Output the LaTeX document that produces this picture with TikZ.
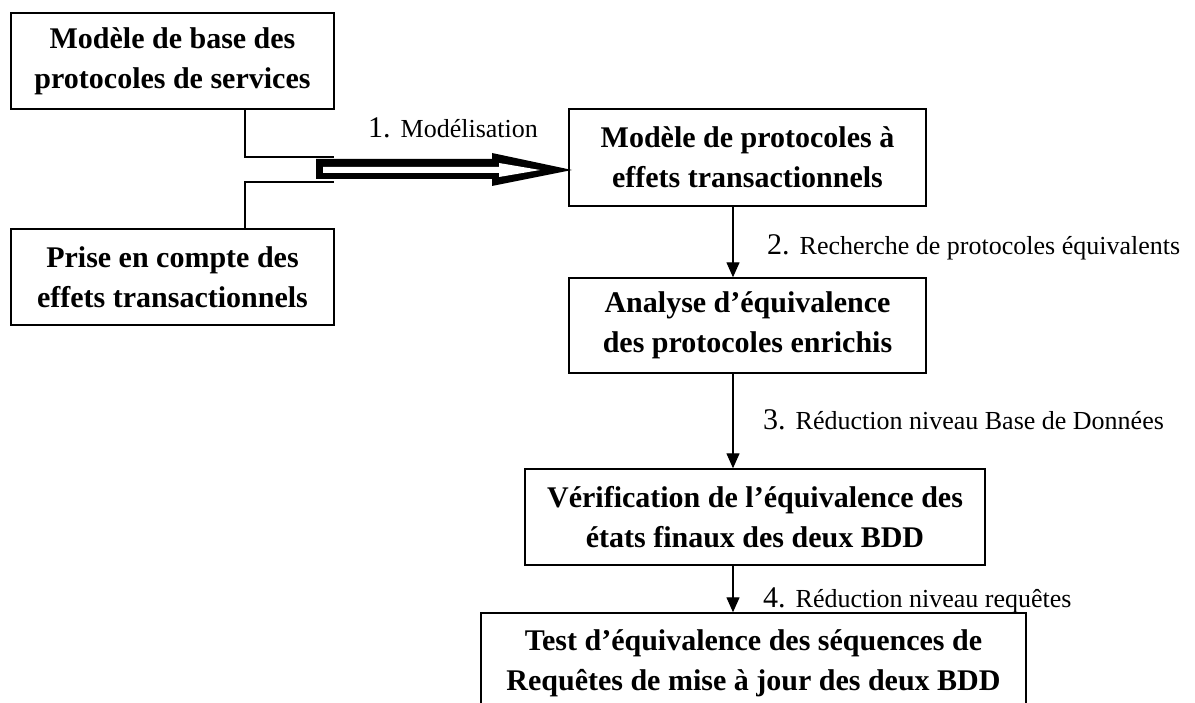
\documentclass[tikz,border=0pt]{standalone}
\usepackage{fontspec}
\setmainfont{Liberation Serif}
\usetikzlibrary{arrows.meta}
\newcommand\stepno[1]{{\fontsize{30}{30}\selectfont #1}}
\begin{document}
\begin{tikzpicture}[x=1pt,y=-1pt,
  stage/.style={draw, line width=1.4pt, align=center, inner sep=0pt,
    font=\bfseries\fontsize{30}{40}\selectfont},
  link/.style={line width=1.3pt},
  flow/.style={line width=1.3pt, -{Triangle[length=15pt,width=13pt]}},
  steplabel/.style={anchor=base west, inner sep=0pt,
    font=\fontsize{26}{26}\selectfont}]
\useasboundingbox (0,0) rectangle (1195,703);
\clip (0,0) rectangle (1195,703);
\fill[white] (0,0) rectangle (1195,703);

% stages
\node[stage, minimum width=323pt, minimum height=96pt] (base) at (172.5,61)
  {Modèle de base des\\protocoles de services};
\node[stage, minimum width=323pt, minimum height=96pt] (trans) at (172.5,277)
  {Prise en compte des\\effets transactionnels};
\node[stage, minimum width=357pt, minimum height=97pt] (model) at (747.5,157.5)
  {Modèle de protocoles à\\effets transactionnels};
\node[stage, minimum width=357pt, minimum height=95pt] (analyse) at (747.5,325.5)
  {Analyse d’équivalence\\des protocoles enrichis};
\node[stage, minimum width=460pt, minimum height=96pt] (verif) at (755,517)
  {Vérification de l’équivalence des\\états finaux des deux BDD};
\node[stage, minimum width=545pt, minimum height=100pt] (test) at (753.5,663)
  {Test d’équivalence des séquences de\\Requêtes de mise à jour des deux BDD};

% the two inputs joining into the modelling arrow
\coordinate (cx) at (245,0);
\coordinate (jtop) at (334,157);
\coordinate (jbot) at (334,182);
\draw[link] (cx |- base.south) |- (jtop);
\draw[link] (cx |- trans.north) |- (jbot);

% hollow block arrow into the transactional model
\fill[black] (316,159) -- (492,159) -- (492,153) -- (572,170) -- (492,186)
  -- (492,179) -- (316,179) -- cycle;
\fill[white] (323,167) -- (499,167) -- (499,163) -- (540,170) -- (499,177)
  -- (499,173) -- (323,173) -- cycle;

% chain of reductions
\coordinate (ax) at (733,0);
\draw[flow] (ax |- model.south) -- (ax |- analyse.north);
\draw[flow] (ax |- analyse.south) -- (ax |- verif.north);
\draw[flow] (ax |- verif.south) -- (ax |- test.north);

% step labels
\node[steplabel] (l1) at (368,138) {\stepno{1. }Modélisation};
\node[steplabel] (l2) at (767,255) {\stepno{2. }Recherche de protocoles équivalents};
\node[steplabel] (l3) at (763,430) {\stepno{3. }Réduction niveau Base de Données};
\node[steplabel] (l4) at (763,607) {\stepno{4. }Réduction niveau requêtes};
\end{tikzpicture}
\end{document}
